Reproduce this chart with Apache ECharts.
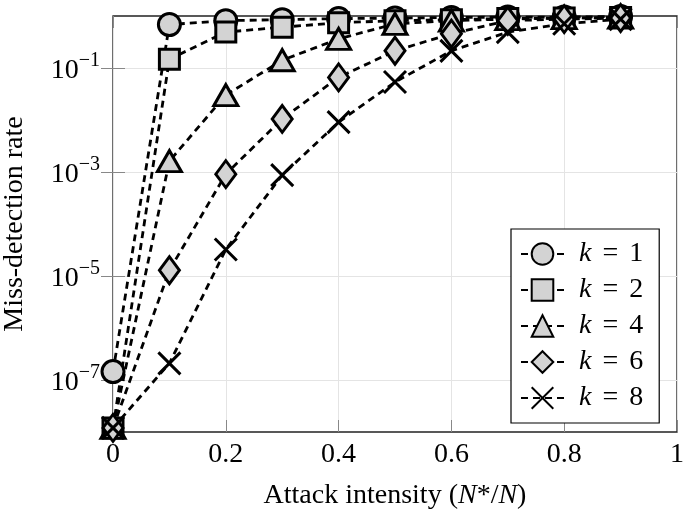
<!DOCTYPE html>
<html>
<head>
<meta charset="utf-8">
<script src="https://cdn.jsdelivr.net/npm/echarts@6/dist/echarts.min.js"></script>
<style>html,body{margin:0;padding:0;background:#fff;}#c{width:685px;height:511px;}</style>
</head>
<body>
<div id="c"></div>
<script>
// ---- data ----
const xValues = [0, 0.1, 0.2, 0.3, 0.4, 0.5, 0.6, 0.7, 0.8, 0.9];
const k1 = [1.45e-7, 0.684, 0.813, 0.851, 0.891, 0.912, 0.933, 0.955, 0.955, 0.977];
const k2 = [1.2e-8, 0.148, 0.49, 0.61, 0.741, 0.813, 0.851, 0.891, 0.912, 0.933];
const k4 = [1.2e-8, 1.62e-3, 0.0302, 0.141, 0.363, 0.708, 0.813, 0.871, 0.912, 0.933];
const k6 = [1.2e-8, 1.29e-5, 9.1e-4, 0.0105, 0.066, 0.214, 0.457, 0.813, 0.871, 0.912];
const k8 = [1.2e-8, 2.09e-7, 3.24e-5, 8.7e-4, 9.1e-3, 0.0537, 0.214, 0.49, 0.708, 0.871];
const seriesNames = ['k = 1', 'k = 2', 'k = 4', 'k = 6', 'k = 8'];
const yTickValues = [1e-7, 1e-5, 1e-3, 1e-1];
const xTickValues = [0, 0.2, 0.4, 0.6, 0.8, 1];
const xTitle = 'Attack intensity ({n|N}*/{n|N})';
const yTitle = 'Miss-detection rate';

const allSeries = [k1, k2, k4, k6, k8];
const FONT = '"Liberation Serif", "DejaVu Serif", serif';
const FS = 28;
const fill = '#d3d3d3';
const symbols = [
  {symbol: 'circle', size: 22},
  {symbol: 'rect', size: 20},
  {symbol: 'triangle', size: [24, 21]},
  {symbol: 'diamond', size: [20, 27]},
  {symbol: 'path://M0,0L10,10M10,0L0,10', size: 22}
];

const chart = echarts.init(document.getElementById('c'), null, {renderer: 'canvas'});

const series = allSeries.map((vals, si) => ({
  name: seriesNames[si],
  type: 'line',
  data: xValues.map((x, i) => [x, vals[i]]),
  symbol: symbols[si].symbol,
  symbolSize: symbols[si].size,
  showAllSymbol: true,
  clip: false,
  lineStyle: {color: '#000', width: 2.8, type: [7, 5]},
  itemStyle: {
    color: si === 4 ? 'rgba(0,0,0,0)' : fill,
    borderColor: '#000',
    borderWidth: 3
  },
  emphasis: {disabled: true},
  animation: false
}));

function supLabel(v) {
  const e = Math.round(Math.log10(v));
  return '{b|10}{s|' + (e < 0 ? '\u2212' + (-e) : e) + '}';
}

const option = {
  animation: false,
  grid: {left: 113, right: 8, top: 16, bottom: 79, show: true, borderColor: '#222', borderWidth: 1.3,
    backgroundColor: 'transparent', outerBoundsMode: 'none', containLabel: false},
  xAxis: [{
    type: 'value', min: 0, max: 1, interval: 0.2,
    name: xTitle, nameLocation: 'middle', nameGap: 50,
    nameTextStyle: {fontFamily: FONT, fontSize: FS, color: '#000',
      rich: {n: {fontFamily: FONT, fontSize: FS, fontStyle: 'italic', color: '#000'}}},
    axisLine: {show: false},
    axisTick: {show: true, inside: true, length: 12, lineStyle: {color: '#888', width: 1}},
    axisLabel: {fontFamily: FONT, fontSize: FS, color: '#000', margin: 9,
      formatter: v => String(Math.round(v * 10) / 10)},
    splitLine: {show: true, lineStyle: {color: '#e4e4e4', width: 1}}
  }, {
    type: 'value', min: 0, max: 1, interval: 0.2, position: 'top',
    axisLine: {show: false},
    axisTick: {show: true, inside: true, length: 12, lineStyle: {color: '#888', width: 1}},
    axisLabel: {show: false}, splitLine: {show: false}
  }],
  yAxis: [{
    type: 'log', logBase: 10, min: 1e-8, max: 1,
    name: yTitle, nameLocation: 'middle', nameGap: 84, nameRotate: 90,
    nameTextStyle: {fontFamily: FONT, fontSize: FS, color: '#000'},
    axisLine: {show: false},
    axisTick: {show: true, inside: true, length: 12, customValues: yTickValues, lineStyle: {color: '#888', width: 1}},
    axisLabel: {customValues: yTickValues, color: '#000', margin: 13,
      formatter: supLabel,
      rich: {
        b: {fontFamily: FONT, fontSize: FS, color: '#000', verticalAlign: 'bottom', lineHeight: 34},
        s: {fontFamily: FONT, fontSize: 20, color: '#000', verticalAlign: 'top', lineHeight: 20}
      }},
    splitLine: {show: true, lineStyle: {color: '#e4e4e4', width: 1}},
    minorTick: {show: false}
  }, {
    type: 'log', logBase: 10, min: 1e-8, max: 1, position: 'right',
    axisLine: {show: false},
    axisTick: {show: true, inside: true, length: 12, customValues: yTickValues, lineStyle: {color: '#888', width: 1}},
    axisLabel: {show: false}, splitLine: {show: false}
  }],
  legend: {
    orient: 'vertical', left: 511, top: 229,
    padding: [11, 16, 11, 9],
    itemWidth: 43, itemHeight: 27, itemGap: 8,
    borderColor: '#000', borderWidth: 1.2, backgroundColor: '#fff', borderRadius: 0,
    data: seriesNames,
    formatter: name => '{i|k}{e|=}' + name.slice(4),
    textStyle: {fontFamily: FONT, fontSize: FS, color: '#000', padding: [0, 0, 0, 10], lineHeight: 27,
      rich: {
        i: {fontFamily: FONT, fontSize: FS, fontStyle: 'italic', color: '#000', lineHeight: 27},
        e: {fontFamily: FONT, fontSize: FS, color: '#000', padding: [0, 11, 0, 11], lineHeight: 27}
      }}
  },
  series: series
};
chart.setOption(option);
</script>
</body>
</html>
